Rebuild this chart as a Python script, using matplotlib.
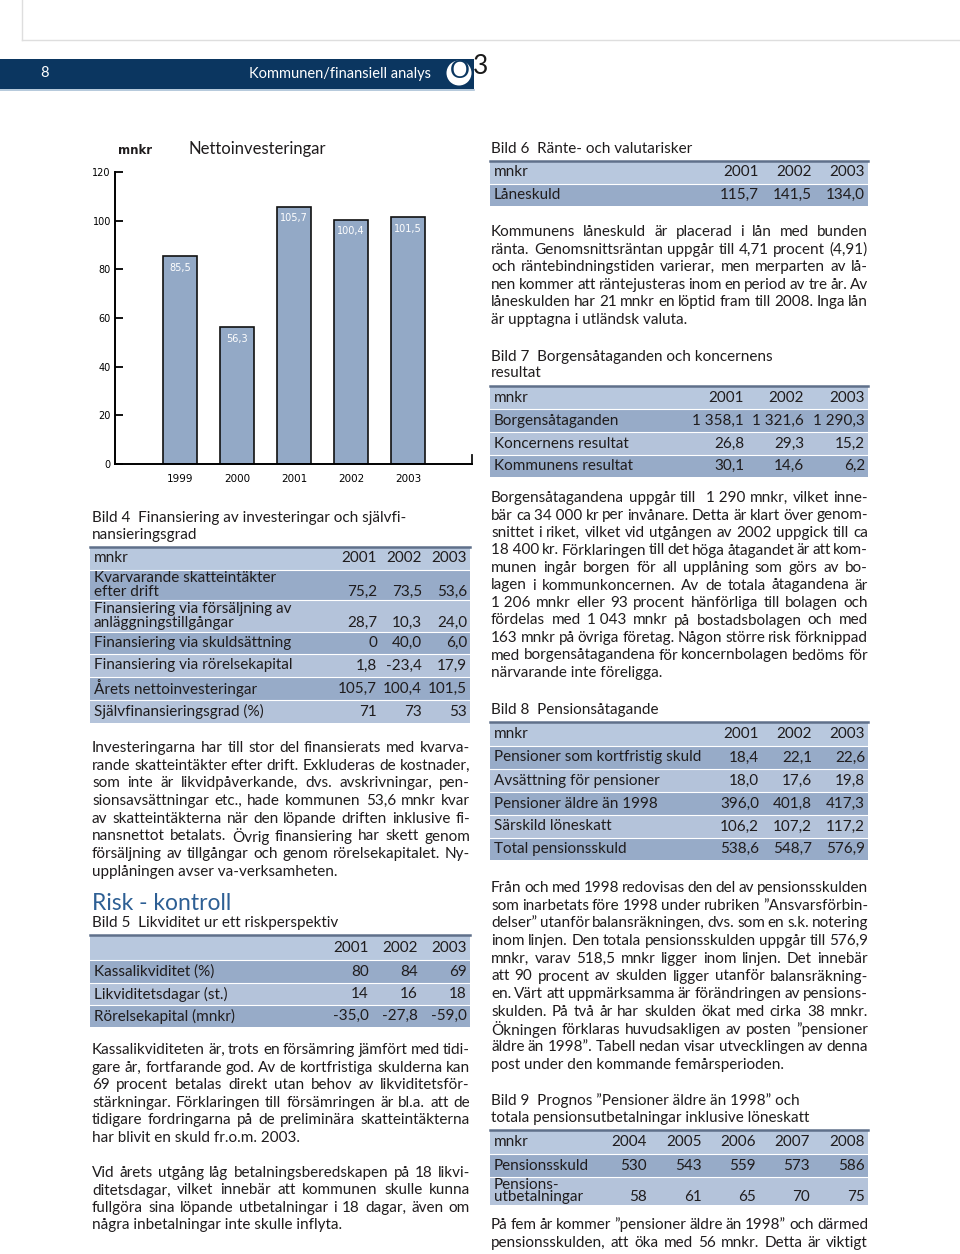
import matplotlib
matplotlib.use('Agg')
import matplotlib.pyplot as plt
from matplotlib.patches import Rectangle, Circle

plt.rcParams['font.family'] = ['Lato', 'DejaVu Sans']

# ---- chart: Nettoinvesteringar (mnkr)
years = ['1999', '2000', '2001', '2002', '2003']
netto_inv = [85.5, 56.3, 105.7, 100.4, 101.5]
y_ticks = [0, 20, 40, 60, 80, 100, 120]

# ---- Bild 4
b4_cols = ['2001', '2002', '2003']
b4_rows = ['Kvarvarande skatteintäkter\nefter drift',
           'Finansiering via försäljning av\nanläggningstillgångar',
           'Finansiering via skuldsättning',
           'Finansiering via rörelsekapital',
           'Årets nettoinvesteringar',
           'Självfinansieringsgrad (%)']
b4_vals = [['75,2', '73,5', '53,6'], ['28,7', '10,3', '24,0'], ['0', '40,0', '6,0'],
           ['1,8', '-23,4', '17,9'], ['105,7', '100,4', '101,5'], ['71', '73', '53']]

# ---- Bild 5
b5_cols = ['2001', '2002', '2003']
b5_rows = ['Kassalikviditet (%)', 'Likviditetsdagar (st.)', 'Rörelsekapital (mnkr)']
b5_vals = [['80', '84', '69'], ['14', '16', '18'], ['-35,0', '-27,8', '-59,0']]

# ---- Bild 6
b6_cols = ['2001', '2002', '2003']
b6_rows = ['Låneskuld']
b6_vals = [['115,7', '141,5', '134,0']]

# ---- Bild 7
b7_cols = ['2001', '2002', '2003']
b7_rows = ['Borgensåtaganden', 'Koncernens resultat', 'Kommunens resultat']
b7_vals = [['1\u00a0358,1', '1\u00a0321,6', '1\u00a0290,3'], ['26,8', '29,3', '15,2'],
           ['30,1', '14,6', '6,2']]

# ---- Bild 8
b8_cols = ['2001', '2002', '2003']
b8_rows = ['Pensioner som kortfristig skuld', 'Avsättning för pensioner',
           'Pensioner äldre än 1998', 'Särskild löneskatt', 'Total pensionsskuld']
b8_vals = [['18,4', '22,1', '22,6'], ['18,0', '17,6', '19,8'], ['396,0', '401,8', '417,3'],
           ['106,2', '107,2', '117,2'], ['538,6', '548,7', '576,9']]

# ---- Bild 9
b9_cols = ['2004', '2005', '2006', '2007', '2008']
b9_rows = ['Pensionsskuld', 'Pensions-\nutbetalningar']
b9_vals = [['530', '543', '559', '573', '586'], ['58', '61', '65', '70', '75']]

# ---- body text (line breaks as in the original)
p_invest = ['Investeringarna har till stor del finansierats med kvarva-',
            'rande skatteintäkter efter drift. Exkluderas de kostnader,',
            'som inte är likvidpåverkande, dvs. avskrivningar, pen-',
            'sionsavsättningar etc., hade kommunen 53,6 mnkr kvar',
            'av skatteintäkterna när den löpande driften inklusive fi-',
            'nansnettot betalats. Övrig finansiering har skett genom',
            'försäljning av tillgångar och genom rörelsekapitalet. Ny-',
            'upplåningen avser va-verksamheten.']
p_kassa = ['Kassalikviditeten är, trots en försämring jämfört med tidi-',
           'gare år, fortfarande god. Av de kortfristiga skulderna kan',
           '69 procent betalas direkt utan behov av likviditetsför-',
           'stärkningar. Förklaringen till försämringen är bl.a. att de',
           'tidigare fordringarna på de preliminära skatteintäkterna',
           'har blivit en skuld fr.o.m. 2003.']
p_dagar = ['Vid årets utgång låg betalningsberedskapen på 18 likvi-',
           'ditetsdagar, vilket innebär att kommunen skulle kunna',
           'fullgöra sina löpande utbetalningar i 18 dagar, även om',
           'några inbetalningar inte skulle inflyta.']
p_lan = ['Kommunens låneskuld är placerad i lån med bunden',
         'ränta. Genomsnittsräntan uppgår till 4,71 procent (4,91)',
         'och räntebindningstiden varierar, men merparten av lå-',
         'nen kommer att räntejusteras inom en period av tre år. Av',
         'låneskulden har 21 mnkr en löptid fram till 2008. Inga lån',
         'är upptagna i utländsk valuta.']
p_borgen = ['Borgensåtagandena uppgår till  1\u00a0290 mnkr, vilket inne-',
            'bär ca 34\u00a0000 kr per invånare. Detta är klart över genom-',
            'snittet i riket, vilket vid utgången av 2002 uppgick till ca',
            '18\u00a0400 kr. Förklaringen till det höga åtagandet är att kom-',
            'munen ingår borgen för all upplåning som görs av bo-',
            'lagen i kommunkoncernen. Av de totala åtagandena är',
            '1\u00a0206 mnkr eller 93 procent hänförliga till bolagen och',
            'fördelas med 1\u00a0043 mnkr på bostadsbolagen och med',
            '163 mnkr på övriga företag. Någon större risk förknippad',
            'med borgensåtagandena för koncernbolagen bedöms för',
            'närvarande inte föreligga.']
p_pension = ['Från och med 1998 redovisas den del av pensionsskulden',
             'som inarbetats före 1998 under rubriken ”Ansvarsförbin-',
             'delser” utanför balansräkningen, dvs. som en s.k. notering',
             'inom linjen. Den totala pensionsskulden uppgår till 576,9',
             'mnkr, varav 518,5 mnkr ligger inom linjen. Det innebär',
             'att 90 procent av skulden ligger utanför balansräkning-',
             'en. Värt att uppmärksamma är förändringen av pensions-',
             'skulden. På två år har skulden ökat med cirka 38 mnkr.',
             'Ökningen förklaras huvudsakligen av posten ”pensioner',
             'äldre än 1998”. Tabell nedan visar utvecklingen av denna',
             'post under den kommande femårsperioden.']
p_fem = ['På fem år kommer ”pensioner äldre än 1998” och därmed',
         'pensionsskulden, att öka med 56 mnkr. Detta är viktigt']

ink = '#1f1c1d'
navy = '#0b3660'
head_c = '#b8c8de'
dark_c = '#97abc8'
light_c = '#b4c3da'

fig = plt.figure(figsize=(9.6, 12.54), dpi=100)
page = fig.add_axes([0, 0, 1, 1])
page.set_xlim(0, 960)
page.set_ylim(1254, 0)
page.axis('off')
rend = fig.canvas.get_renderer()


def text_w(s, size):
    t = page.text(0, 0, s, fontsize=size)
    w = t.get_window_extent(rend).width
    t.remove()
    return w


# body size: widest justified line must fit with word gaps squeezed to ~60 %
base = 10.8
space = text_w('a a', base) - text_w('aa', base)
worst = 10.0
for par in [p_invest, p_kassa, p_dagar, p_lan, p_borgen, p_pension, p_fem]:
    for ln in par[:-1]:
        tight = text_w(ln, base) - ln.count(' ') * space * 0.4
        worst = min(worst, 374.0 / tight)
fs = base * worst


def justify(lines, x0, x1, y0, step, last_full=False):
    for i, ln in enumerate(lines):
        y = y0 + i * step
        words = ln.split(' ')
        if (i == len(lines) - 1 and not last_full) or len(words) == 1:
            page.text(x0, y, ln, fontsize=fs, color=ink, va='center')
            continue
        ts = [page.text(0, y, w, fontsize=fs, color=ink, va='center') for w in words]
        ws = [t.get_window_extent(rend).width if w else 0 for t, w in zip(ts, words)]
        gap = (x1 - x0 - sum(ws)) / (len(words) - 1)
        x = x0
        for t, w in zip(ts, ws):
            t.set_x(x)
            x += w + gap


def table(x0, x1, top, head_h, row_h, head_lab, cols, col_r, rows, vals, gap):
    page.add_patch(Rectangle((x0, top), x1 - x0, head_h, fc=head_c, ec='none'))
    page.plot([x0, x1], [top, top], color='#5f708a', lw=1.8)
    yc = top + head_h / 2
    page.text(x0 + 4, yc, head_lab, fontsize=fs, color=ink, va='center')
    for c, xr in zip(cols, col_r):
        page.text(xr, yc, c, fontsize=fs, color=ink, va='center', ha='right')
    y = top + head_h
    for i, (lab, h) in enumerate(zip(rows, row_h)):
        fc = dark_c if i % 2 == 0 else light_c
        page.add_patch(Rectangle((x0, y), x1 - x0, h, fc=fc, ec='none'))
        page.plot([x0, x1], [y, y], color='white', lw=0.8)
        parts = lab.split('\n')
        yc = y + h / 2
        for k, p in enumerate(parts):
            page.text(x0 + 4, yc + (k - (len(parts) - 1) / 2) * gap, p,
                      fontsize=fs, color=ink, va='center')
        yv = yc + (len(parts) - 1) / 2 * gap
        for v, xr in zip(vals[i], col_r):
            page.text(xr, yv, v, fontsize=fs, color=ink, va='center', ha='right')
        y += h


# ---- page header
page.plot([22, 22], [0, 40], color='#dedede', lw=1)
page.plot([22, 960], [40, 40], color='#dedede', lw=1)
page.add_patch(Rectangle((0, 59), 474, 30, fc=navy, ec='none'))
page.plot([0, 474], [90, 90], color='#a9c0d6', lw=1.2)
page.text(40, 73, '8', fontsize=10.5, color='white', va='center')
page.text(431, 74, 'Kommunen/finansiell analys', fontsize=10.5, color='white',
          va='center', ha='right')
page.add_patch(Circle((459, 73), 12.5, fc='white', ec='none'))
page.text(460, 71, 'O', fontsize=18, color=navy, va='center', ha='center')
page.text(473, 67, '3', fontsize=19, color='#1a1a1a', va='center', ha='left')

# ---- bar chart
ax = fig.add_axes([115 / 960, 1 - 464 / 1254, 357 / 960, 292 / 1254])
pos = range(len(years))
bars = ax.bar(pos, netto_inv, width=0.6, color='#93a9c6', edgecolor='#111111',
              linewidth=1.2)
ax.bar_label(bars, labels=[f'{v:.1f}'.replace('.', ',') for v in netto_inv],
             padding=-12, color='white', fontsize=7, family='DejaVu Sans')
ax.set_xlim(-1.14, 5.12)
ax.set_ylim(0, 120)
ax.set_yticks(y_ticks)
ax.set_xticks(list(pos))
ax.set_xticklabels(years, family='DejaVu Sans', fontsize=7.5)
ax.set_yticklabels([str(t) for t in y_ticks], family='DejaVu Sans', fontsize=7)
ax.tick_params(axis='y', direction='in', length=6, width=1.3, pad=3)
ax.tick_params(axis='x', length=0, pad=7)
for s in ['top', 'right']:
    ax.spines[s].set_visible(False)
for s in ['left', 'bottom']:
    ax.spines[s].set_linewidth(1.4)
ax.plot([1, 1], [0, 0.03], transform=ax.transAxes, color='#111111', lw=1.3,
        clip_on=False)
ax.patch.set_alpha(0)
page.text(118, 150, 'mnkr', fontsize=8.5, color=ink, va='center', weight='bold',
          family='DejaVu Sans')
page.text(188, 149, 'Nettoinvesteringar', fontsize=12, color=ink, va='center')

# ---- left column
page.text(92, 518, 'Bild 4  Finansiering av investeringar och självfi-', fontsize=fs,
          color=ink, va='center')
page.text(92, 535, 'nansieringsgrad', fontsize=fs, color=ink, va='center')
table(90, 470, 547, 23, [30, 32, 22, 23, 23, 23], 'mnkr', b4_cols, [377, 422, 467],
      b4_rows, b4_vals, 14.5)
justify(p_invest, 92, 470, 748, 17.7)
page.text(92, 903, 'Risk - kontroll', fontsize=16.5, color='#2d5f94', va='center')
page.text(92, 923, 'Bild 5  Likviditet ur ett riskperspektiv', fontsize=fs,
          color=ink, va='center')
table(90, 470, 935, 25, [23, 22, 22], '', b5_cols, [369, 418, 467], b5_rows,
      b5_vals, 14.5)
justify(p_kassa, 92, 470, 1050, 17.6)
justify(p_dagar, 92, 470, 1173, 17.5)

# ---- right column
page.text(491, 149, 'Bild 6  Ränte- och valutarisker', fontsize=fs, color=ink,
          va='center')
table(490, 868, 161, 23, [22], 'mnkr', b6_cols, [759, 812, 865], b6_rows, b6_vals, 14)
justify(p_lan, 491, 868, 232, 17.6)
page.text(491, 357, 'Bild 7  Borgensåtaganden och koncernens', fontsize=fs,
          color=ink, va='center')
page.text(491, 373, 'resultat', fontsize=fs, color=ink, va='center')
table(490, 868, 386, 23, [23, 23, 22], 'mnkr', b7_cols, [744, 804, 865], b7_rows,
      b7_vals, 14)
justify(p_borgen, 491, 868, 498, 17.5)
page.text(491, 710, 'Bild 8  Pensionsåtagande', fontsize=fs, color=ink, va='center')
table(490, 868, 722, 24, [23, 23, 23, 23, 22], 'mnkr', b8_cols, [759, 812, 865],
      b8_rows, b8_vals, 14)
justify(p_pension, 491, 868, 888, 17.7)
page.text(491, 1101, 'Bild 9  Prognos ”Pensioner äldre än 1998” och', fontsize=fs,
          color=ink, va='center')
page.text(491, 1118, 'totala pensionsutbetalningar inklusive löneskatt', fontsize=fs,
          color=ink, va='center')
table(490, 868, 1130, 24, [23, 28], 'mnkr', b9_cols, [647, 702, 756, 810, 865],
      b9_rows, b9_vals, 11.5)
justify(p_fem, 491, 868, 1225, 18, last_full=True)

fig.savefig('out.png', dpi=100)
